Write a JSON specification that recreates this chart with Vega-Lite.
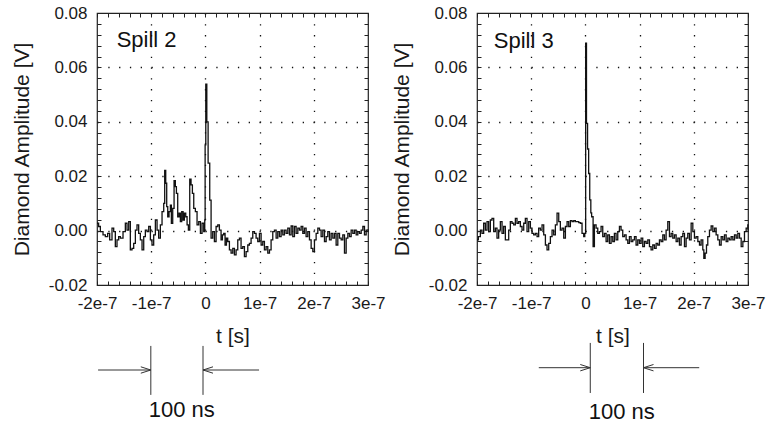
{
  "$schema": "https://vega.github.io/schema/vega-lite/v6.json",
  "padding": {"left": 10, "top": 3, "right": 0, "bottom": 0},
  "background": "white",
  "bounds": "flush",
  "spacing": 109,
  "datasets": {
    "spill2": [
      {"t":-200,"v":2.7},{"t":-197,"v":1.5},{"t":-193.8,"v":-0.4},{"t":-188.9,"v":-1.6},{"t":-184.6,"v":-2.2},{"t":-180.3,"v":-1.0},{"t":-176.6,"v":-3.4},{"t":-172.3,"v":0.9},{"t":-169.2,"v":-0.4},{"t":-166.2,"v":-5.9},{"t":-163.1,"v":-3.4},{"t":-160,"v":-2.2},{"t":-156.9,"v":-2.8},{"t":-152,"v":-0.4},{"t":-147.7,"v":2.7},{"t":-144.6,"v":0.2},{"t":-141.5,"v":3.3},{"t":-138.5,"v":-7.1},{"t":-135.4,"v":-6.5},{"t":-132.3,"v":-4.7},{"t":-129.2,"v":0.2},{"t":-126.2,"v":2.1},{"t":-123.1,"v":-1.0},{"t":-120,"v":-3.4},{"t":-116.9,"v":-7.1},{"t":-113.8,"v":-2.2},{"t":-110.8,"v":0.2},{"t":-107.7,"v":-0.4},{"t":-104.6,"v":1.5},{"t":-101.5,"v":-3.4},{"t":-98.5,"v":-5.3},{"t":-95.4,"v":-1.6},{"t":-92.3,"v":3.9},{"t":-89.2,"v":0.2},{"t":-86.2,"v":-2.8},{"t":-83.1,"v":2.1},{"t":-80,"v":7.0},{"t":-76.9,"v":10.0},{"t":-75.1,"v":22.1},{"t":-73.2,"v":17.4},{"t":-71.4,"v":8.8},{"t":-69.5,"v":5.1},{"t":-67.1,"v":7.0},{"t":-64.6,"v":9.4},{"t":-62.8,"v":2.7},{"t":-60.3,"v":8.2},{"t":-57.8,"v":18.4},{"t":-55.4,"v":16.2},{"t":-53.5,"v":13.7},{"t":-51.1,"v":5.1},{"t":-48.6,"v":6.4},{"t":-46.2,"v":3.3},{"t":-43.7,"v":7.0},{"t":-41.2,"v":3.9},{"t":-38.8,"v":6.4},{"t":-36.3,"v":5.1},{"t":-33.8,"v":2.1},{"t":-31.4,"v":0.2},{"t":-28.9,"v":18.9},{"t":-26.5,"v":16.8},{"t":-24,"v":13.7},{"t":-21.5,"v":8.2},{"t":-18.5,"v":7.0},{"t":-15.4,"v":2.1},{"t":-12.3,"v":3.3},{"t":-9.2,"v":-1.0},{"t":-6.2,"v":2.7},{"t":-3.1,"v":-0.4},{"t":-1.2,"v":3.9},{"t":-0.5,"v":31.5},{"t":0.7,"v":53.8},{"t":2.6,"v":40.0},{"t":5,"v":24.8},{"t":8,"v":11.2},{"t":10.5,"v":-2.8},{"t":13.5,"v":-0.4},{"t":16.6,"v":-4.0},{"t":19.7,"v":1.5},{"t":22.8,"v":2.1},{"t":25.8,"v":0.2},{"t":28.9,"v":-3.4},{"t":31.4,"v":-1.6},{"t":33.8,"v":-1.0},{"t":36.3,"v":-5.3},{"t":38.8,"v":-2.8},{"t":41.2,"v":-4.0},{"t":44.3,"v":-7.1},{"t":47.4,"v":-8.3},{"t":50.5,"v":-6.5},{"t":53.5,"v":-8.9},{"t":56.6,"v":-7.1},{"t":59.7,"v":-3.4},{"t":62.8,"v":-2.8},{"t":65.8,"v":-6.5},{"t":68.9,"v":-5.9},{"t":72,"v":-9.6},{"t":75.1,"v":-7.7},{"t":78.2,"v":-5.3},{"t":81.2,"v":-4.7},{"t":84.3,"v":-2.8},{"t":87.4,"v":-0.4},{"t":90.5,"v":-1.0},{"t":93.5,"v":-2.8},{"t":96.6,"v":-4.0},{"t":99.7,"v":-1.0},{"t":102.8,"v":-5.3},{"t":105.8,"v":-4.0},{"t":108.9,"v":-7.1},{"t":112,"v":-5.9},{"t":115.1,"v":-8.3},{"t":118.2,"v":-7.1},{"t":121.2,"v":-3.4},{"t":124.3,"v":-0.4},{"t":127.4,"v":0.2},{"t":130.5,"v":-2.8},{"t":133.5,"v":-0.4},{"t":136.6,"v":-2.2},{"t":139.7,"v":0.2},{"t":142.8,"v":-1.6},{"t":145.8,"v":0.2},{"t":148.9,"v":-1.0},{"t":152,"v":0.9},{"t":155.1,"v":-1.6},{"t":158.2,"v":1.7},{"t":161.2,"v":-2.2},{"t":164.3,"v":1.5},{"t":167.4,"v":-1.0},{"t":170.5,"v":0.9},{"t":173.5,"v":0.2},{"t":176.6,"v":1.5},{"t":179.7,"v":-1.0},{"t":182.8,"v":0.9},{"t":185.8,"v":-2.2},{"t":188.9,"v":-0.4},{"t":192,"v":-3.4},{"t":195.1,"v":-6.5},{"t":198.2,"v":-7.7},{"t":201.2,"v":-3.4},{"t":204.3,"v":-1.0},{"t":207.4,"v":0.9},{"t":210.5,"v":0.2},{"t":213.5,"v":-2.2},{"t":216.6,"v":0.2},{"t":219.7,"v":-4.0},{"t":222.8,"v":-2.2},{"t":225.8,"v":-0.4},{"t":228.9,"v":-3.4},{"t":232,"v":-1.0},{"t":235.1,"v":-2.8},{"t":238.2,"v":-1.0},{"t":241.2,"v":-5.3},{"t":244.3,"v":-1.0},{"t":247.4,"v":-2.8},{"t":250.5,"v":-3.4},{"t":253.5,"v":-1.6},{"t":256.6,"v":-8.3},{"t":259.7,"v":-2.8},{"t":262.8,"v":-1.0},{"t":265.8,"v":-2.2},{"t":268.9,"v":0.2},{"t":272,"v":-1.0},{"t":275.1,"v":0.2},{"t":278.2,"v":-1.6},{"t":281.2,"v":-0.4},{"t":284.3,"v":-1.0},{"t":287.4,"v":0.2},{"t":290.5,"v":1.5},{"t":293.5,"v":-1.6},{"t":296.6,"v":0.2},{"t":300,"v":0.5}
    ],
    "spill3": [
      {"t":-200,"v":-3.4},{"t":-197.5,"v":-2.2},{"t":-193.8,"v":0.2},{"t":-190.8,"v":-1.0},{"t":-187.7,"v":2.7},{"t":-184.6,"v":0.2},{"t":-181.5,"v":3.3},{"t":-178.5,"v":-0.4},{"t":-175.4,"v":3.9},{"t":-172.3,"v":4.5},{"t":-169.2,"v":-0.4},{"t":-166.2,"v":0.9},{"t":-163.1,"v":-2.8},{"t":-160,"v":0.2},{"t":-156.9,"v":3.3},{"t":-153.8,"v":-1.0},{"t":-150.8,"v":1.5},{"t":-147.7,"v":-3.4},{"t":-144.6,"v":-3.4},{"t":-141.5,"v":0.2},{"t":-138.5,"v":3.3},{"t":-135.4,"v":2.7},{"t":-132.3,"v":2.1},{"t":-129.2,"v":4.5},{"t":-126.2,"v":2.7},{"t":-123.1,"v":3.3},{"t":-120,"v":1.5},{"t":-116.9,"v":0.2},{"t":-113.8,"v":2.7},{"t":-110.8,"v":4.5},{"t":-107.7,"v":-0.4},{"t":-104.6,"v":3.3},{"t":-101.5,"v":0.9},{"t":-98.5,"v":-1.0},{"t":-95.4,"v":-1.6},{"t":-92.3,"v":-1.0},{"t":-89.2,"v":-2.2},{"t":-86.2,"v":0.9},{"t":-83.1,"v":0.2},{"t":-80,"v":2.1},{"t":-76.9,"v":-1.6},{"t":-73.8,"v":-5.3},{"t":-70.8,"v":-7.1},{"t":-67.7,"v":-4.7},{"t":-64.6,"v":-2.2},{"t":-61.5,"v":0.2},{"t":-58.5,"v":-1.6},{"t":-55.4,"v":2.1},{"t":-52.3,"v":6.4},{"t":-49.2,"v":3.3},{"t":-46.2,"v":0.2},{"t":-43.1,"v":0.9},{"t":-40,"v":-2.8},{"t":-36.9,"v":1.5},{"t":-33.8,"v":3.3},{"t":-30.8,"v":1.5},{"t":-27.7,"v":3.7},{"t":-24.6,"v":3.3},{"t":-21.5,"v":3.7},{"t":-18.5,"v":3.3},{"t":-15.4,"v":3.3},{"t":-12.3,"v":2.9},{"t":-9.2,"v":2.7},{"t":-6.2,"v":-1.0},{"t":-3.1,"v":-2.2},{"t":-1.2,"v":-1.0},{"t":0.5,"v":68.9},{"t":2,"v":39.4},{"t":4,"v":30.0},{"t":6,"v":21.0},{"t":8,"v":11.3},{"t":10,"v":6.5},{"t":11.5,"v":5.1},{"t":14.2,"v":-5.9},{"t":16.6,"v":2.1},{"t":19.7,"v":0.9},{"t":22.8,"v":-1.0},{"t":25.8,"v":-0.4},{"t":28.9,"v":1.5},{"t":32,"v":-2.2},{"t":35.1,"v":-1.0},{"t":38.2,"v":-4.0},{"t":41.2,"v":-1.6},{"t":44.3,"v":-4.7},{"t":47.4,"v":-2.2},{"t":50.5,"v":-4.0},{"t":53.5,"v":-1.0},{"t":56.6,"v":-3.4},{"t":59.7,"v":-0.4},{"t":62.8,"v":1.5},{"t":65.8,"v":0.2},{"t":68.9,"v":-2.2},{"t":72,"v":-1.6},{"t":75.1,"v":-3.4},{"t":78.2,"v":-4.7},{"t":81.2,"v":-2.2},{"t":84.3,"v":-4.0},{"t":87.4,"v":-3.4},{"t":90.5,"v":-2.2},{"t":93.5,"v":-5.3},{"t":96.6,"v":-3.4},{"t":99.7,"v":-4.7},{"t":102.8,"v":-2.8},{"t":105.8,"v":-5.9},{"t":108.9,"v":-4.0},{"t":112,"v":-4.7},{"t":115.1,"v":-3.4},{"t":118.2,"v":-5.9},{"t":121.2,"v":-7.1},{"t":124.3,"v":-5.3},{"t":127.4,"v":-6.5},{"t":130.5,"v":-4.7},{"t":133.5,"v":-5.3},{"t":136.6,"v":-3.4},{"t":139.7,"v":-4.0},{"t":142.8,"v":-1.6},{"t":145.8,"v":-3.4},{"t":148.9,"v":0.2},{"t":152,"v":3.3},{"t":155.1,"v":-2.2},{"t":158.2,"v":-1.0},{"t":161.2,"v":-2.8},{"t":164.3,"v":-1.6},{"t":167.4,"v":-4.0},{"t":170.5,"v":-2.8},{"t":173.5,"v":-5.3},{"t":176.6,"v":-2.2},{"t":179.7,"v":-1.0},{"t":182.8,"v":-5.9},{"t":185.8,"v":-2.8},{"t":188.9,"v":-1.0},{"t":192,"v":-3.4},{"t":195.1,"v":2.7},{"t":198.2,"v":-0.4},{"t":201.2,"v":-2.8},{"t":204.3,"v":-2.2},{"t":207.4,"v":-4.0},{"t":210.5,"v":-5.3},{"t":213.5,"v":-3.4},{"t":216.6,"v":-7.1},{"t":218.5,"v":-10.2},{"t":220.9,"v":-8.3},{"t":223.4,"v":-5.3},{"t":225.8,"v":-2.2},{"t":228.9,"v":0.2},{"t":232,"v":1.7},{"t":235.1,"v":-0.4},{"t":238.2,"v":0.9},{"t":241.2,"v":-1.6},{"t":244.3,"v":-3.4},{"t":247.4,"v":-5.3},{"t":250.5,"v":-2.2},{"t":253.5,"v":-3.4},{"t":256.6,"v":-1.6},{"t":259.7,"v":-4.0},{"t":262.8,"v":-2.8},{"t":265.8,"v":-3.4},{"t":268.9,"v":-2.2},{"t":272,"v":-3.4},{"t":275.1,"v":-1.6},{"t":278.2,"v":-2.8},{"t":281.2,"v":-1.0},{"t":284.3,"v":-2.8},{"t":287.4,"v":-5.9},{"t":290.5,"v":-4.0},{"t":293.5,"v":-0.4},{"t":296.6,"v":0.9},{"t":299.7,"v":2.1},{"t":300,"v":0.0}
    ]
  },
  "hconcat": [
    {
      "width": 271,
      "height": 272,
      "resolve": {"axis": {"x": "independent", "y": "independent"}},
      "layer": [
        {
          "data": {"name": "spill2"},
          "mark": {"type": "line", "interpolate": "step-after", "color": "#111", "strokeWidth": 1.3},
          "encoding": {
            "x": {"field": "t", "type": "quantitative", "scale": {"domain": [-200, 300], "nice": false, "zero": false},
              "axis": {"orient": "bottom", "title": "t [s]", "values": [-200,-180,-160,-140,-120,-100,-80,-60,-40,-20,0,20,40,60,80,100,120,140,160,180,200,220,240,260,280,300],
                "labelExpr": "datum.value % 100 == 0 ? (datum.value == 0 ? '0' : (datum.value / 100) + 'e-7') : ''",
                "labelFlush": false, "labelOverlap": false, "labelBound": false, "labelPadding": 14, "titlePadding": 14,
                "grid": true, "gridColor": "#111", "gridWidth": 1.3, "gridDash": [1.3, 9.5],
                "gridOpacity": {"condition": {"test": "datum.value % 100 == 0 && datum.value > -200 && datum.value < 300", "value": 1}, "value": 0},
                "tickSize": -4}},
            "y": {"field": "v", "type": "quantitative", "scale": {"domain": [-20, 80], "nice": false, "zero": false},
              "axis": {"orient": "left", "title": "Diamond Amplitude [V]", "values": [-20,-16,-12,-8,-4,0,4,8,12,16,20,24,28,32,36,40,44,48,52,56,60,64,68,72,76,80],
                "labelExpr": "datum.value % 20 == 0 ? (datum.value < 0 ? '-' : '') + format(abs(datum.value) / 1000, '.2f') : ''",
                "labelOverlap": false, "labelBound": false, "labelFlush": false, "labelPadding": 14, "titlePadding": 16,
                "grid": true, "gridColor": "#111", "gridWidth": 1.3, "gridDash": [1.3, 9.5],
                "gridOpacity": {"condition": {"test": "datum.value % 20 == 0 && datum.value > -20 && datum.value < 80", "value": 1}, "value": 0},
                "tickSize": -4}}
          }
        },
        {
          "data": {"values": [{"t": -163.7, "v": 67.6, "label": "Spill 2"}]},
          "mark": {"type": "text", "align": "left", "baseline": "alphabetic", "fontSize": 22, "color": "#111"},
          "encoding": {
            "x": {"field": "t", "type": "quantitative", "scale": {"domain": [-200, 300], "nice": false, "zero": false},
              "axis": {"orient": "top", "title": null, "labels": false, "grid": false, "tickSize": -4, "values": [-200,-180,-160,-140,-120,-100,-80,-60,-40,-20,0,20,40,60,80,100,120,140,160,180,200,220,240,260,280,300]}},
            "y": {"field": "v", "type": "quantitative", "scale": {"domain": [-20, 80], "nice": false, "zero": false},
              "axis": {"orient": "right", "title": null, "labels": false, "grid": false, "tickSize": -4, "values": [-20,-16,-12,-8,-4,0,4,8,12,16,20,24,28,32,36,40,44,48,52,56,60,64,68,72,76,80]}},
            "text": {"field": "label"}
          }
        },
        {
          "data": {"values": [
            {"t": -100.7, "t2": -100.7, "v": -42.4, "v2": -60.4},
            {"t": -4.4, "t2": -4.4, "v": -42.4, "v2": -60.4},
            {"t": -198, "t2": -100.7, "v": -51.25, "v2": -51.25},
            {"t": 99, "t2": -4.4, "v": -51.25, "v2": -51.25}
          ]},
          "mark": {"type": "rule", "color": "#333", "strokeWidth": 1},
          "encoding": {
            "x": {"field": "t", "type": "quantitative", "scale": {"domain": [-200, 300], "nice": false, "zero": false}, "axis": null},
            "x2": {"field": "t2"},
            "y": {"field": "v", "type": "quantitative", "scale": {"domain": [-20, 80], "nice": false, "zero": false}, "axis": null},
            "y2": {"field": "v2"}
          }
        },
        {
          "data": {"values": [
            {"t": -100.7, "v": -51.25, "dir": "right"},
            {"t": -4.4, "v": -51.25, "dir": "left"}
          ]},
          "mark": {"type": "point", "filled": false, "color": "#333", "strokeWidth": 1, "size": 400, "opacity": 1},
          "encoding": {
            "x": {"field": "t", "type": "quantitative", "scale": {"domain": [-200, 300], "nice": false, "zero": false}, "axis": null},
            "y": {"field": "v", "type": "quantitative", "scale": {"domain": [-20, 80], "nice": false, "zero": false}, "axis": null},
            "shape": {"field": "dir", "type": "nominal", "scale": {"domain": ["right", "left"], "range": ["M-1,-0.32L0,0L-1,0.32", "M1,-0.32L0,0L1,0.32"]}, "legend": null}
          }
        },
        {
          "data": {"values": [{"t": -43.5, "v": -66.0, "label": "100 ns"}]},
          "mark": {"type": "text", "align": "center", "baseline": "middle", "fontSize": 22, "color": "#111"},
          "encoding": {
            "x": {"field": "t", "type": "quantitative", "scale": {"domain": [-200, 300], "nice": false, "zero": false}, "axis": null},
            "y": {"field": "v", "type": "quantitative", "scale": {"domain": [-20, 80], "nice": false, "zero": false}, "axis": null},
            "text": {"field": "label"}
          }
        }
      ]
    },
    {
      "width": 271,
      "height": 272,
      "resolve": {"axis": {"x": "independent", "y": "independent"}},
      "layer": [
        {
          "data": {"name": "spill3"},
          "mark": {"type": "line", "interpolate": "step-after", "color": "#111", "strokeWidth": 1.3},
          "encoding": {
            "x": {"field": "t", "type": "quantitative", "scale": {"domain": [-200, 300], "nice": false, "zero": false},
              "axis": {"orient": "bottom", "title": "t [s]", "values": [-200,-180,-160,-140,-120,-100,-80,-60,-40,-20,0,20,40,60,80,100,120,140,160,180,200,220,240,260,280,300],
                "labelExpr": "datum.value % 100 == 0 ? (datum.value == 0 ? '0' : (datum.value / 100) + 'e-7') : ''",
                "labelFlush": false, "labelOverlap": false, "labelBound": false, "labelPadding": 14, "titlePadding": 14,
                "grid": true, "gridColor": "#111", "gridWidth": 1.3, "gridDash": [1.3, 9.5],
                "gridOpacity": {"condition": {"test": "datum.value % 100 == 0 && datum.value > -200 && datum.value < 300", "value": 1}, "value": 0},
                "tickSize": -4}},
            "y": {"field": "v", "type": "quantitative", "scale": {"domain": [-20, 80], "nice": false, "zero": false},
              "axis": {"orient": "left", "title": "Diamond Amplitude [V]", "values": [-20,-16,-12,-8,-4,0,4,8,12,16,20,24,28,32,36,40,44,48,52,56,60,64,68,72,76,80],
                "labelExpr": "datum.value % 20 == 0 ? (datum.value < 0 ? '-' : '') + format(abs(datum.value) / 1000, '.2f') : ''",
                "labelOverlap": false, "labelBound": false, "labelFlush": false, "labelPadding": 14, "titlePadding": 16,
                "grid": true, "gridColor": "#111", "gridWidth": 1.3, "gridDash": [1.3, 9.5],
                "gridOpacity": {"condition": {"test": "datum.value % 20 == 0 && datum.value > -20 && datum.value < 80", "value": 1}, "value": 0},
                "tickSize": -4}}
          }
        },
        {
          "data": {"values": [{"t": -169, "v": 67.1, "label": "Spill 3"}]},
          "mark": {"type": "text", "align": "left", "baseline": "alphabetic", "fontSize": 22, "color": "#111"},
          "encoding": {
            "x": {"field": "t", "type": "quantitative", "scale": {"domain": [-200, 300], "nice": false, "zero": false},
              "axis": {"orient": "top", "title": null, "labels": false, "grid": false, "tickSize": -4, "values": [-200,-180,-160,-140,-120,-100,-80,-60,-40,-20,0,20,40,60,80,100,120,140,160,180,200,220,240,260,280,300]}},
            "y": {"field": "v", "type": "quantitative", "scale": {"domain": [-20, 80], "nice": false, "zero": false},
              "axis": {"orient": "right", "title": null, "labels": false, "grid": false, "tickSize": -4, "values": [-20,-16,-12,-8,-4,0,4,8,12,16,20,24,28,32,36,40,44,48,52,56,60,64,68,72,76,80]}},
            "text": {"field": "label"}
          }
        },
        {
          "data": {"values": [
            {"t": 9, "t2": 9, "v": -41.3, "v2": -59.7},
            {"t": 107.2, "t2": 107.2, "v": -41.3, "v2": -59.7},
            {"t": -86, "t2": 9, "v": -50.4, "v2": -50.4},
            {"t": 210, "t2": 107.2, "v": -50.4, "v2": -50.4}
          ]},
          "mark": {"type": "rule", "color": "#333", "strokeWidth": 1},
          "encoding": {
            "x": {"field": "t", "type": "quantitative", "scale": {"domain": [-200, 300], "nice": false, "zero": false}, "axis": null},
            "x2": {"field": "t2"},
            "y": {"field": "v", "type": "quantitative", "scale": {"domain": [-20, 80], "nice": false, "zero": false}, "axis": null},
            "y2": {"field": "v2"}
          }
        },
        {
          "data": {"values": [
            {"t": 9, "v": -50.4, "dir": "right"},
            {"t": 107.2, "v": -50.4, "dir": "left"}
          ]},
          "mark": {"type": "point", "filled": false, "color": "#333", "strokeWidth": 1, "size": 400, "opacity": 1},
          "encoding": {
            "x": {"field": "t", "type": "quantitative", "scale": {"domain": [-200, 300], "nice": false, "zero": false}, "axis": null},
            "y": {"field": "v", "type": "quantitative", "scale": {"domain": [-20, 80], "nice": false, "zero": false}, "axis": null},
            "shape": {"field": "dir", "type": "nominal", "scale": {"domain": ["right", "left"], "range": ["M-1,-0.32L0,0L-1,0.32", "M1,-0.32L0,0L1,0.32"]}, "legend": null}
          }
        },
        {
          "data": {"values": [{"t": 67, "v": -66.7, "label": "100 ns"}]},
          "mark": {"type": "text", "align": "center", "baseline": "middle", "fontSize": 22, "color": "#111"},
          "encoding": {
            "x": {"field": "t", "type": "quantitative", "scale": {"domain": [-200, 300], "nice": false, "zero": false}, "axis": null},
            "y": {"field": "v", "type": "quantitative", "scale": {"domain": [-20, 80], "nice": false, "zero": false}, "axis": null},
            "text": {"field": "label"}
          }
        }
      ]
    }
  ],
  "config": {
    "font": "Liberation Sans",
    "view": {"stroke": "#222", "strokeWidth": 1.2},
    "axis": {"labelFont": "Liberation Sans", "labelFontSize": 17, "labelColor": "#1a1a1a", "titleFont": "Liberation Sans", "titleFontSize": 21, "titleFontWeight": "normal", "titleColor": "#1a1a1a", "tickColor": "#222", "tickWidth": 1, "domain": false}
  }
}
